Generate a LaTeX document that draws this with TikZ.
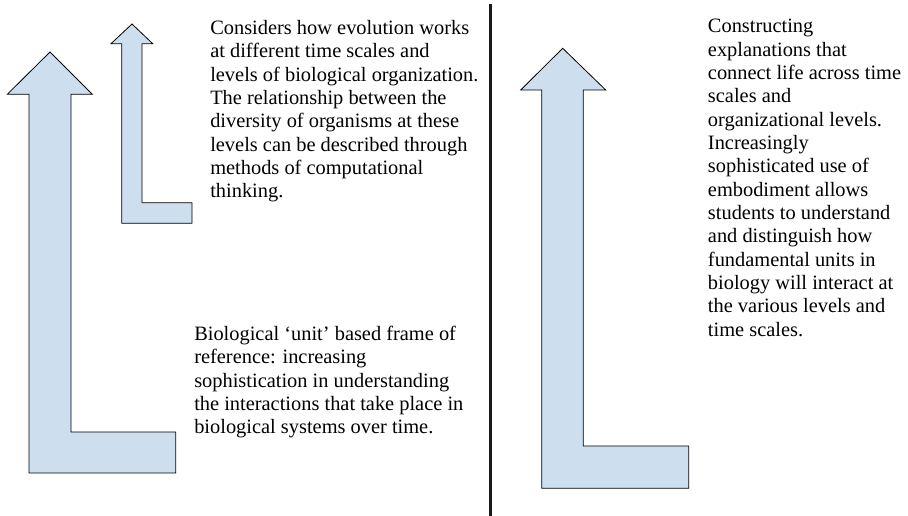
\documentclass[tikz,border=0pt]{standalone}
\usepackage{fontspec}
\setmainfont{Liberation Serif}
\definecolor{stagefill}{RGB}{205,222,238}
\begin{document}
\begin{tikzpicture}[x=0.75pt,y=-0.75pt,
  stage/.style={fill=stagefill, draw=black, line width=0.6pt, line join=miter},
  blurb/.style={anchor=north west, inner sep=0pt, align=left, font=\fontsize{15.3pt}{17.5pt}\selectfont}]
\useasboundingbox (0,0) rectangle (908,516);
% left half: large and small L-shaped arrows
\draw[stage] (50,52) -- (92.3,94.3) -- (71,94.3) -- (71,432) -- (175.7,432) -- (175.7,473) -- (29,473) -- (29,94.3) -- (7.3,94.3) -- cycle;
\draw[stage] (132,24) -- (152.7,43.7) -- (142,43.7) -- (142,202.7) -- (192,202.7) -- (192,223.3) -- (121.7,223.3) -- (121.7,43.7) -- (111,43.7) -- cycle;
\node[blurb] (scales) at (210,20) {Considers how evolution works\\at different time scales and\\levels of biological organization.\\The relationship between the\\diversity of organisms at these\\levels can be described through\\methods of computational\\thinking.};
\node[blurb] (unitframe) at (194,326) {Biological `unit' based frame of\\reference: increasing\\sophistication in understanding\\the interactions that take place in\\biological systems over time.};
% divider
\draw[line width=2.25pt, black!90] (490,4) -- (490,516);
% right half
\draw[stage] (562.7,48.3) -- (605.7,90) -- (583.3,90) -- (583.3,446) -- (688.7,446) -- (688.7,488.3) -- (541.7,488.3) -- (541.7,90) -- (520.7,90) -- cycle;
\node[blurb] (embodiment) at (707.7,19) {Constructing\\explanations that\\connect life across time\\scales and\\organizational levels.\\Increasingly\\sophisticated use of\\embodiment allows\\students to understand\\and distinguish how\\fundamental units in\\biology will interact at\\the various levels and\\time scales.};
\end{tikzpicture}
\end{document}
